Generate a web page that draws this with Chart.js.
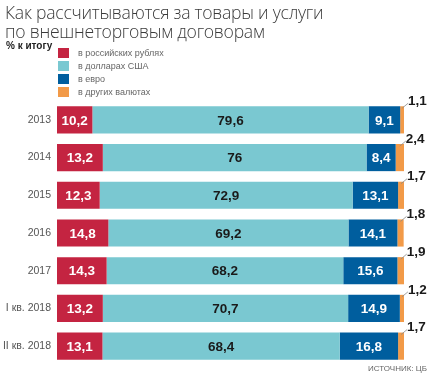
<!DOCTYPE html>
<html><head><meta charset="utf-8">
<script src="https://cdn.jsdelivr.net/npm/chart.js@4/dist/chart.umd.min.js"></script>
<style>
html,body{margin:0;padding:0;background:#fff;}
#wrap{position:relative;width:442px;height:380px;overflow:hidden;}
canvas{position:absolute;left:0;top:0;}
.t{position:absolute;white-space:nowrap;}
#title{left:5px;top:3px;font:300 17.6px/19px "Open Sans","DejaVu Sans",sans-serif;color:#3a3a3a;letter-spacing:-0.25px;}
#unit{left:6px;top:40px;font:bold 10px "Liberation Sans","DejaVu Sans",sans-serif;color:#222;}
#legend{left:58px;top:46px;}
.li{height:13px;display:flex;align-items:center;font:9px "Liberation Sans","DejaVu Sans",sans-serif;color:#666;}
.sw{width:11px;height:10px;margin-right:9px;}
#src{right:15px;top:364px;font:8px "Liberation Sans","DejaVu Sans",sans-serif;color:#666;}
</style></head>
<body><div id="wrap">
<canvas id="c" width="442" height="380"></canvas>
<div class="t" id="title">Как рассчитываются за товары и услуги<br>по внешнеторговым договорам</div>
<div class="t" id="unit">% к итогу</div>
<div class="t" id="legend"></div>
<div class="t" id="src">ИСТОЧНИК: ЦБ</div>
</div>
<script>
const categories = ["2013","2014","2015","2016","2017","I кв. 2018","II кв. 2018"];
const seriesNames = ["в российских рублях","в долларах США","в евро","в других валютах"];
const rub = [10.2,13.2,12.3,14.8,14.3,13.2,13.1];
const usd = [79.6,76,72.9,69.2,68.2,70.7,68.4];
const eur = [9.1,8.4,13.1,14.1,15.6,14.9,16.8];
const other = [1.1,2.4,1.7,1.8,1.9,1.2,1.7];
const colors = ["#c42441","#7ac8d1","#005e9e","#f29a48"];
const labelColors = ["#ffffff","#1a1a1a","#ffffff",null];

const lg = document.getElementById('legend');
seriesNames.forEach((n,i)=>{
  const d=document.createElement('div');d.className='li';
  d.innerHTML='<span class="sw" style="background:'+colors[i]+'"></span><span>'+n+'</span>';
  lg.appendChild(d);
});

const fmt = v => String(v).replace('.',',');
const FONT = '"Liberation Sans","DejaVu Sans",sans-serif';

const labelPlugin = {
  id:'labels',
  afterDatasetsDraw(chart){
    const ctx=chart.ctx;
    ctx.save();
    chart.data.datasets.forEach((ds,di)=>{
      const meta=chart.getDatasetMeta(di);
      meta.data.forEach((el,i)=>{
        const v=ds.data[i];
        ctx.font='bold 13.5px '+FONT;
        if(di<3){
          ctx.fillStyle=labelColors[di];
          ctx.textAlign='center';ctx.textBaseline='middle';
          ctx.fillText(fmt(v),(el.x+el.base)/2,el.y+1);
        } else {
          const top=el.y-el.height/2;
          const x0=(el.x+el.base)/2;
          ctx.strokeStyle='#8a8a8a';ctx.lineWidth=0.8;
          ctx.beginPath();ctx.moveTo(x0,top+2);ctx.lineTo(x0+6,top-3);ctx.stroke();
          ctx.fillStyle='#1a1a1a';
          ctx.textAlign='left';ctx.textBaseline='middle';
          ctx.fillText(fmt(v),x0+6,top-5);
        }
      });
    });
    ctx.restore();
  }
};

const series=[rub,usd,eur,other];
new Chart(document.getElementById('c'),{
  type:'bar',
  data:{labels:categories,datasets:series.map((d,i)=>({label:seriesNames[i],data:d,backgroundColor:colors[i],borderWidth:0,barPercentage:0.72,categoryPercentage:1}))},
  options:{
    indexAxis:'y',responsive:false,animation:false,
    layout:{padding:{left:0,right:38,top:101,bottom:15}},
    plugins:{legend:{display:false},tooltip:{enabled:false},title:{display:false}},
    scales:{
      x:{stacked:true,min:0,max:100,display:false},
      y:{stacked:true,grid:{display:false,drawTicks:false,tickLength:0},border:{display:false},
         afterFit(s){s.width=57;},
         ticks:{color:'#555',padding:6,font:{family:FONT,size:10.5}}}
    }
  },
  plugins:[labelPlugin]
});
</script>
</body></html>
